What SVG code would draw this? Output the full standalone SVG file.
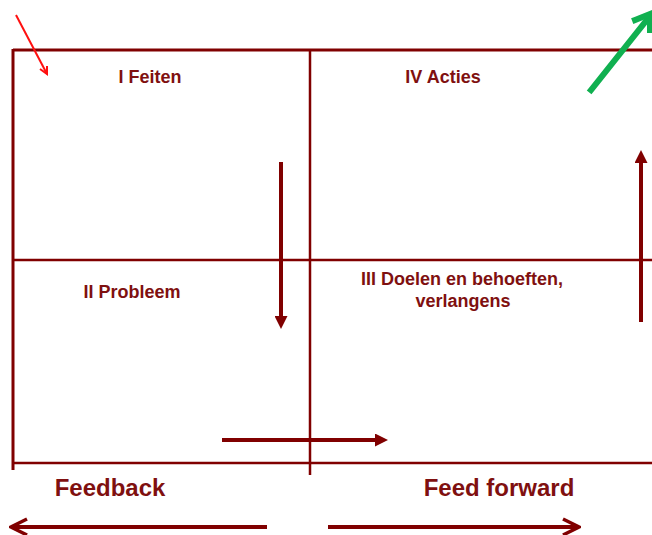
<svg xmlns="http://www.w3.org/2000/svg" width="652" height="535" viewBox="0 0 652 535">
<style>
.ln{stroke:#800000;fill:none}
.t{font-family:"Liberation Sans",Arial,sans-serif;font-weight:bold;fill:#7f1010}
.s{font-size:18px}
.b{font-size:24px}
</style>
<defs>
<marker id="ah" markerWidth="13" markerHeight="13" refX="0" refY="0" viewBox="0 -6.5 13 13" orient="auto" markerUnits="userSpaceOnUse">
<path d="M0,-6.5 L13,0 L0,6.5 Z" fill="#800000"/>
</marker>
<marker id="ao" markerWidth="20" markerHeight="20" refX="0" refY="0" viewBox="-18 -10 20 20" orient="auto" markerUnits="userSpaceOnUse">
<path d="M-16,-8 L0,0 L-16,8" fill="none" stroke="#800000" stroke-width="3.5"/>
</marker>
</defs>
<g id="grid">
<line class="ln" x1="13" y1="50" x2="652" y2="50" stroke-width="3"/>
<line class="ln" x1="13" y1="49" x2="13" y2="470" stroke-width="3"/>
<line class="ln" x1="13" y1="463" x2="652" y2="463" stroke-width="2.5"/>
<line class="ln" x1="310" y1="50" x2="310" y2="475" stroke-width="2.5"/>
<line class="ln" x1="13" y1="260" x2="652" y2="260" stroke-width="2.5"/>
</g>
<g id="q1"><text class="t s" x="150" y="83" text-anchor="middle">I Feiten</text></g>
<g id="q4"><text class="t s" x="443" y="83" text-anchor="middle">IV Acties</text></g>
<g id="q2"><text class="t s" x="132" y="298" text-anchor="middle">II Probleem</text></g>
<g id="q3"><text class="t s" x="462" y="285" text-anchor="middle">III Doelen en behoeften,</text><text class="t s" x="463" y="307" text-anchor="middle">verlangens</text></g>
<g id="feedback"><text class="t b" x="110" y="496" text-anchor="middle">Feedback</text></g>
<g id="feedforward"><text class="t b" x="499" y="496" text-anchor="middle">Feed forward</text></g>
<g id="connectors">
<line class="ln" x1="281" y1="162" x2="281" y2="316" stroke-width="4" marker-end="url(#ah)"/>
<line class="ln" x1="222" y1="440" x2="375" y2="440" stroke-width="4" marker-end="url(#ah)"/>
<line class="ln" x1="641" y1="322" x2="641" y2="163" stroke-width="4" marker-end="url(#ah)"/>
<line class="ln" x1="267" y1="527" x2="11" y2="527" stroke-width="4" marker-end="url(#ao)"/>
<line class="ln" x1="328" y1="527" x2="579" y2="527" stroke-width="4" marker-end="url(#ao)"/>
<g stroke="#ff1010" stroke-width="2" fill="none">
<line x1="16" y1="15" x2="47" y2="74"/>
<path d="M40,69 L47,74 L47,66"/>
</g>
<g stroke="#10b050" stroke-width="6" fill="none" stroke-linecap="square">
<line x1="591" y1="90" x2="650" y2="16"/>
<path d="M635,20 L650,14 L650,30"/>
</g>
</g>
</svg>
